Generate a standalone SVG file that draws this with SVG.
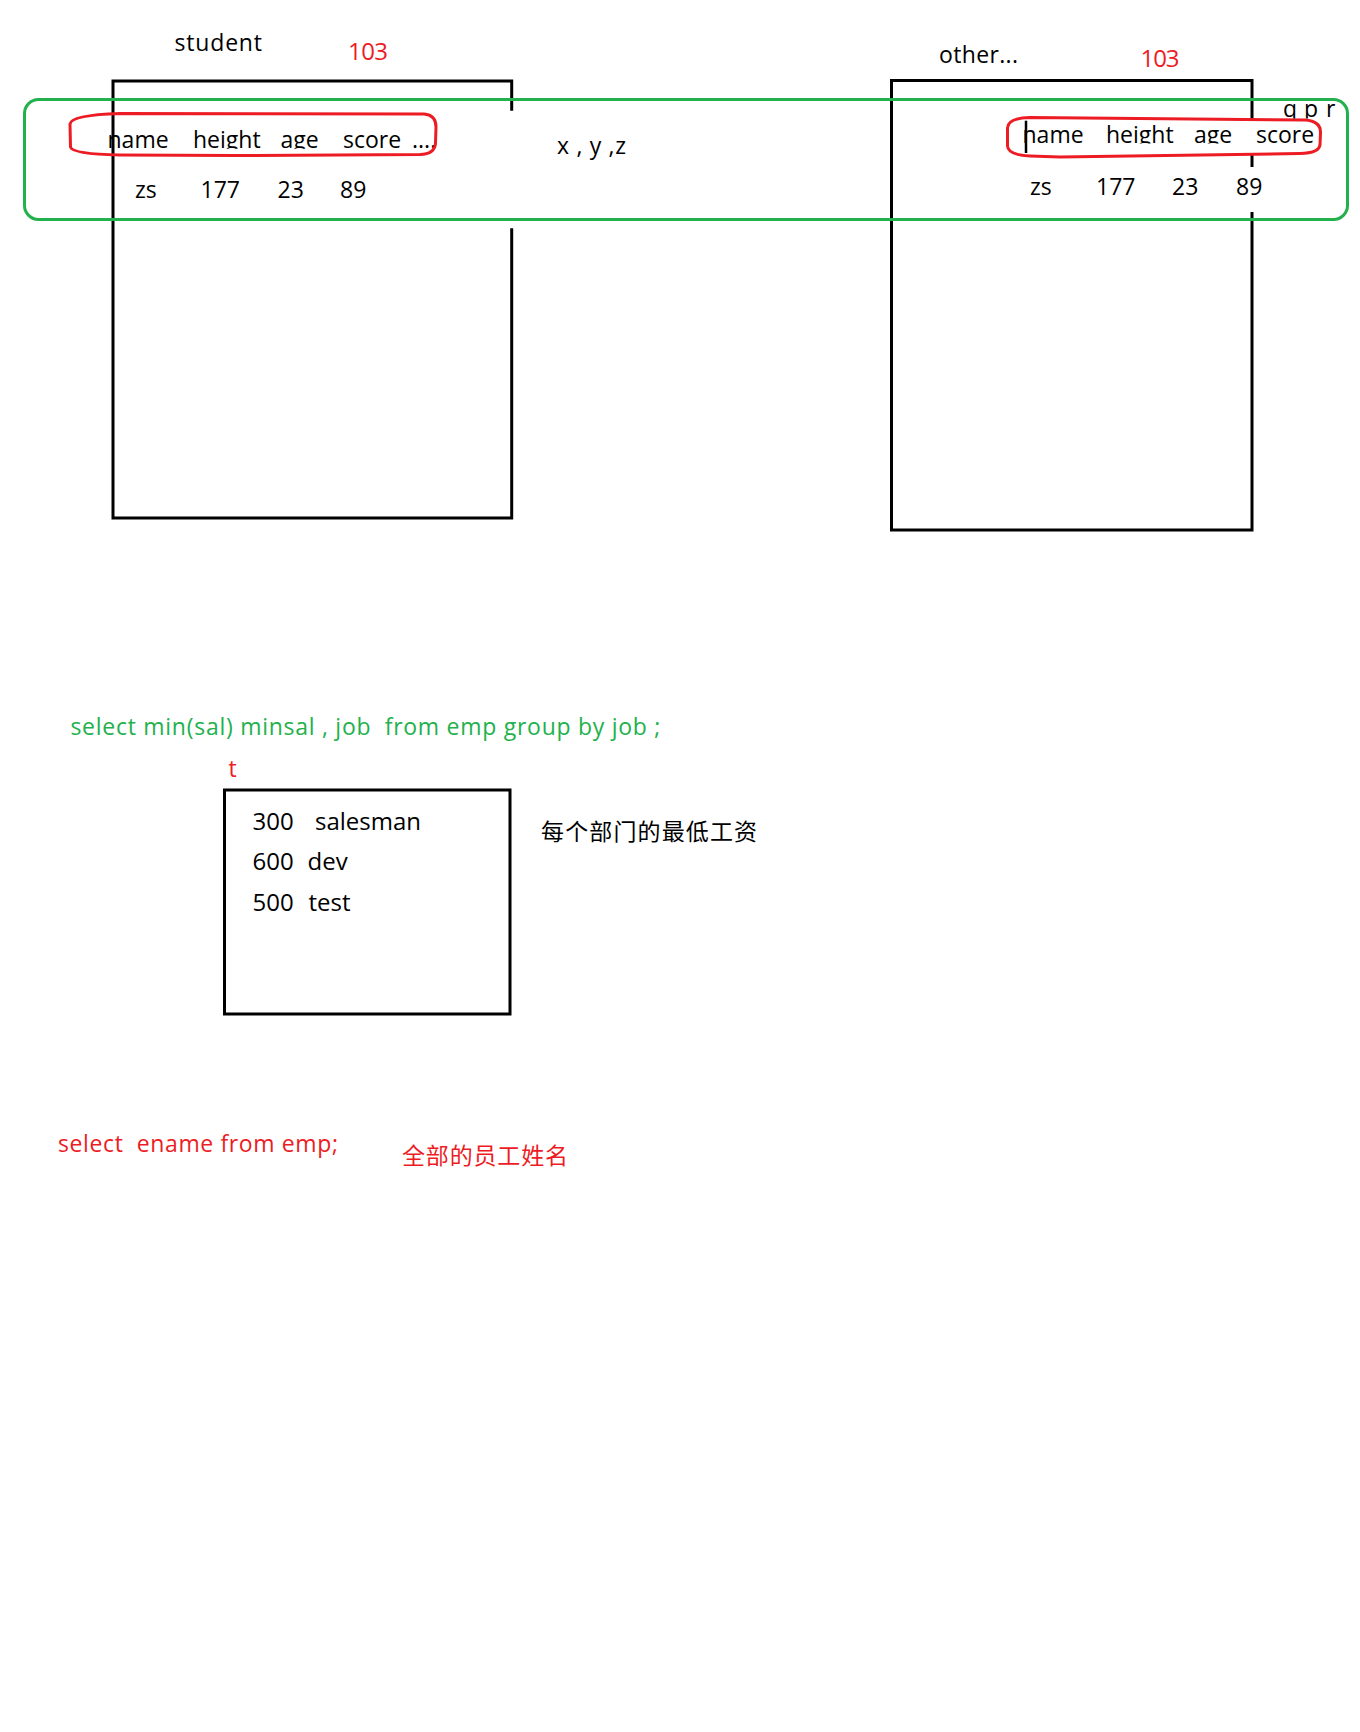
<svg xmlns="http://www.w3.org/2000/svg" width="1360" height="1732" viewBox="0 0 1360 1732">
<style>
.t{font-family:"Open Sans","Noto Sans",sans-serif;font-size:23px;fill:#000;white-space:pre}
.big{font-size:24px}
.red{fill:#ED1C24}
.grn{fill:#22B14C}
.cjk{font-family:"Noto Sans CJK SC","Noto Sans",sans-serif;font-size:23px}
.box{fill:none;stroke:#000;stroke-width:3}
.gbox{fill:none;stroke:#22B14C;stroke-width:3}
.rbox{fill:none;stroke:#ED1C24;stroke-width:3}
</style>
<defs>
<clipPath id="clipL"><rect x="0" y="0" width="700" height="148.8"/></clipPath>
<clipPath id="clipR"><rect x="700" y="0" width="660" height="143.6"/></clipPath>
<clipPath id="clipQ"><rect x="1260" y="0" width="100" height="118.4"/></clipPath>
</defs>
<rect width="1360" height="1732" fill="#fff"/>

<g id="student-table">
<text class="t" x="174.5" y="51" textLength="87.5">student</text>
<text class="t big red" x="348" y="60" textLength="40">103</text>
<path class="box" d="M511.7 110.7 V81 H113 V518 H511.7 V228.3"/>
<text class="t" y="148" clip-path="url(#clipL)"><tspan x="107.5">name</tspan><tspan x="193">height</tspan><tspan x="280.5">age</tspan><tspan x="343">score</tspan><tspan x="412">....</tspan></text>
<text class="t" y="198"><tspan x="135">zs</tspan><tspan x="200.5">177</tspan><tspan x="277.5">23</tspan><tspan x="340">89</tspan></text>
<path class="rbox" d="M120 113.5 L424 114 Q436 115 436 127 L435.5 143 Q435 154 420 154.5 L235 155.5 L120 155 Q72 154 70.5 147 L70 124 Q71 115 120 113.5 Z"/>
</g>

<g id="other-table">
<text class="t" x="939" y="63" textLength="79">other...</text>
<text class="t big red" x="1140.5" y="67" textLength="39">103</text>
<path class="box" d="M1252 120 V80.5 H891.5 V530 H1252 V212 M1252 153 V167"/>
<text class="t" y="142.5" clip-path="url(#clipR)"><tspan x="1022.5">name</tspan><tspan x="1106">height</tspan><tspan x="1194">age</tspan><tspan x="1256">score</tspan></text>
<line x1="1026" y1="120.7" x2="1026" y2="153" stroke="#000" stroke-width="2.5"/>
<text class="t" y="194.5"><tspan x="1030">zs</tspan><tspan x="1096">177</tspan><tspan x="1172">23</tspan><tspan x="1236">89</tspan></text>
<path class="rbox" d="M1030 117.5 L1305 120 Q1321 121 1320.5 133 L1320 145 Q1319 153 1300 153.5 L1060 157 L1030 156 Q1008 155 1007.5 146 L1007.5 128 Q1008 118 1030 117.5 Z"/>
<text class="t" y="116.5" clip-path="url(#clipQ)"><tspan x="1283">q</tspan><tspan x="1304">p</tspan><tspan x="1326">r</tspan></text>
</g>

<g id="row-highlight">
<rect class="gbox" x="24.5" y="99.5" width="1323" height="120" rx="14" ry="14"/>
</g>

<g id="xyz-label">
<text class="t" x="557" y="154" textLength="69">x , y ,z</text>
</g>

<g id="query-min">
<text class="t grn" x="70.4" y="735" textLength="590">select min(sal) minsal , job  from emp group by job ;</text>
</g>

<g id="t-table">
<text class="t red" x="228.6" y="776.7">t</text>
<rect class="box" x="224.5" y="790" width="285.5" height="224"/>
<text class="t big" y="830"><tspan x="252.5">300</tspan><tspan x="315">salesman</tspan></text>
<text class="t big" y="870"><tspan x="252.5">600</tspan><tspan x="307.5">dev</tspan></text>
<text class="t big" y="911"><tspan x="252.5">500</tspan><tspan x="308.5">test</tspan></text>
<text class="cjk" x="541" y="840" textLength="216">每个部门的最低工资</text>
</g>

<g id="query-ename">
<text class="t red" x="58" y="1151.7" textLength="280">select  ename from emp;</text>
<text class="cjk red" x="402" y="1164" textLength="166">全部的员工姓名</text>
</g>
</svg>
